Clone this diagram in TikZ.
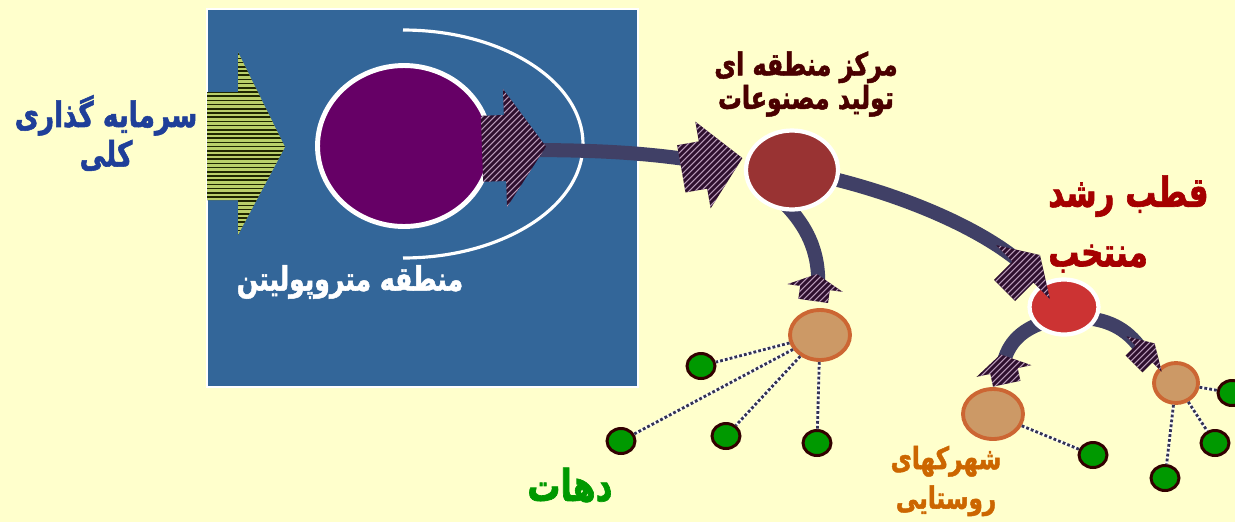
\documentclass[tikz,border=0pt]{standalone}
\usepackage{fontspec}
\newfontfamily\fa[Script=Arabic,FakeStretch=0.75,BoldFeatures={FakeBold=1.5}]{DejaVu Sans}
\TeXXeTstate=1
\usetikzlibrary{shapes.geometric}
\definecolor{bg}{HTML}{FFFFCC}
\definecolor{metro}{HTML}{336699}
\definecolor{purp}{HTML}{660066}
\definecolor{conn}{HTML}{404066}
\definecolor{hatchdark}{HTML}{2E0F2E}
\definecolor{hatchlight}{HTML}{B89AB8}
\definecolor{greendark}{HTML}{1F2600}
\definecolor{greenlight}{HTML}{BACF6A}
\definecolor{redA}{HTML}{993333}
\definecolor{redB}{HTML}{CC3333}
\definecolor{orfill}{HTML}{CC9966}
\definecolor{orline}{HTML}{CC6633}
\definecolor{village}{HTML}{009900}
\definecolor{villageline}{HTML}{330000}
\definecolor{txtblue}{HTML}{1F3F99}
\definecolor{txtmaroon}{HTML}{4A0000}
\definecolor{txtred}{HTML}{A50000}
\definecolor{txtorange}{HTML}{CC6600}
\definecolor{dotc}{HTML}{333355}
% hatched arrow: name, x, y, angle, shaft length, shaft half width, head half width, head length
\newcommand\hatchArrow[8]{%
  \begin{scope}[shift={(#2,#3)},rotate=#4]
    \coordinate (#1p1) at (-#5,-#6);
    \coordinate (#1p2) at (0,-#6);
    \coordinate (#1p3) at (0,-#7);
    \coordinate (#1p4) at (#8,0);
    \coordinate (#1p5) at (0,#7);
    \coordinate (#1p6) at (0,#6);
    \coordinate (#1p7) at (-#5,#6);
  \end{scope}
  \fill[hatchdark] (#1p1) -- (#1p2) -- (#1p3) -- (#1p4) -- (#1p5) -- (#1p6) -- (#1p7) -- cycle;
  \begin{scope}
    \clip (#1p1) -- (#1p2) -- (#1p3) -- (#1p4) -- (#1p5) -- (#1p6) -- (#1p7) -- cycle;
    \foreach \k in {-24,...,24}
      \draw[hatchlight,line width=0.6pt,shift={(#2,#3)}] (\k*6-90,90) -- ++(180,-180);
  \end{scope}}
\begin{document}
\begin{tikzpicture}[x=0.02cm,y=-0.02cm,
  connector/.style={draw=conn,line width=8pt},
  hub/.style={ellipse,draw=white,line width=2.4pt,inner sep=0pt},
  town/.style={ellipse,draw=orline,fill=orfill,line width=2.2pt,inner sep=0pt},
  village/.style={ellipse,draw=villageline,fill=village,line width=1.7pt,inner sep=0pt,minimum width=0.56cm,minimum height=0.5cm},
  dotlink/.style={draw=dotc,line width=1.6pt,dash pattern=on 1.6pt off 1.2pt,preaction={draw=white,line width=1.6pt}},
  label/.style={align=center,inner sep=0pt}
]
\useasboundingbox (0,0) rectangle (1235,522);
\fill[bg] (0,0) rectangle (1235,522);
% metropolitan block
\draw[white,line width=0.8pt,fill=metro] (207,9) rectangle (638,387);
% outer white arc
\draw[white,line width=1.8pt] (403,30) .. controls (502,30) and (583,81) .. (583,144)
  .. controls (583,207) and (502,258) .. (403,258);
% green investment arrow (horizontal stripes)
\fill[greenlight] (207,92) -- (238,92) -- (238,52) -- (285,147) -- (238,235) -- (238,200) -- (207,200) -- cycle;
\begin{scope}
  \clip (207,92) -- (238,92) -- (238,52) -- (285,147) -- (238,235) -- (238,200) -- (207,200) -- cycle;
  \foreach \k in {0,...,45}
    \draw[greendark,line width=0.85pt] (200,50+\k*4.2) -- (290,50+\k*4.2);
\end{scope}
% core
\node[ellipse,draw=white,fill=purp,line width=2.8pt,inner sep=0pt,minimum width=3.46cm,minimum height=3.22cm] (core) at (404,146) {};

% connector coordinates
\coordinate (c1s) at (525,150);
\coordinate (c1e) at (705,162);
\coordinate (c2s) at (830,178);
\coordinate (c2e) at (1020,262);
\coordinate (c3s) at (786,205);
\coordinate (c3e) at (818,288);
\coordinate (c4s) at (1045,322);
\coordinate (c4e) at (1002,372);
\coordinate (c5s) at (1085,318);
\coordinate (c5e) at (1145,355);

\draw[connector] (c1s) .. controls (600,150) and (650,153) .. (c1e);
\draw[connector] (c2s) .. controls (900,195) and (975,225) .. (c2e);
\draw[connector] (c3s) .. controls (805,225) and (820,250) .. (c3e);
\draw[connector] (c4s) .. controls (1020,330) and (1005,345) .. (c4e);
\draw[connector] (c5s) .. controls (1110,320) and (1130,330) .. (c5e);

% hubs
\node[hub,fill=redA,minimum width=1.84cm,minimum height=1.58cm] (red1) at (792,170) {};
\node[hub,fill=redB,minimum width=1.38cm,minimum height=1.1cm] (red2) at (1064,307) {};

% towns
\node[town,minimum width=1.2cm,minimum height=1.0cm] (o1) at (820,335) {};
\node[town,minimum width=1.2cm,minimum height=1.0cm] (o2) at (993,414) {};
\node[town,minimum width=0.88cm,minimum height=0.8cm] (o3) at (1176,383) {};

% villages
\node[village] (g1) at (701,366) {};
\node[village] (g2) at (621,441) {};
\node[village] (g3) at (726,436) {};
\node[village] (g4) at (817,443) {};
\node[village] (g5) at (1093,455) {};
\node[village] (g6) at (1232,393) {};
\node[village] (g7) at (1215,443) {};
\node[village] (g8) at (1165,478) {};

\draw[dotlink] (o1) -- (g1);
\draw[dotlink] (o1) -- (g2);
\draw[dotlink] (o1) -- (g3);
\draw[dotlink] (o1) -- (g4);
\draw[dotlink] (o2) -- (g5);
\draw[dotlink] (o3) -- (g6);
\draw[dotlink] (o3) -- (g7);
\draw[dotlink] (o3) -- (g8);

% hatched arrows
\hatchArrow{aA}{505}{148}{2}{23}{33}{59}{41}
\hatchArrow{aB}{703}{165}{10}{22}{24}{44}{40}
\hatchArrow{aC}{1023}{272}{45}{26}{15}{38}{24}
\hatchArrow{aD}{815}{288}{82}{13}{15}{28}{14}
\hatchArrow{aE}{1004}{371}{102}{13}{14}{28}{17}
\hatchArrow{aF}{1144}{354}{45}{14}{12}{25}{15}

% labels
\node[label,text=txtblue,font=\fa\bfseries\fontsize{20}{22.5}\selectfont] (tInvest) at (106,133) {\beginR سرمایه گذاری\endR\\\beginR کلی\endR};
\node[label,text=white,font=\fa\bfseries\fontsize{19}{22}\selectfont] (tMetro) at (350,282) {\beginR منطقه متروپولیتن\endR};
\node[label,text=txtmaroon,font=\fa\bfseries\fontsize{18}{17.5}\selectfont] (tCenter) at (806,84) {\beginR مرکز منطقه ای\endR\\\beginR تولید مصنوعات\endR};
\node[label,text=txtred,font=\fa\bfseries\fontsize{23.5}{34}\selectfont,align=left,anchor=west] (tPole) at (1048,224) {\beginR قطب رشد\endR\\\beginR منتخب\endR};
\node[label,text=village,font=\fa\bfseries\fontsize{25}{28}\selectfont] (tVill) at (570,485) {\beginR دهات\endR};
\node[label,text=txtorange,font=\fa\bfseries\fontsize{17.5}{22.5}\selectfont] (tTown) at (946,481) {\beginR شهرکهای\endR\\\beginR روستایی\endR};
\end{tikzpicture}
\end{document}
